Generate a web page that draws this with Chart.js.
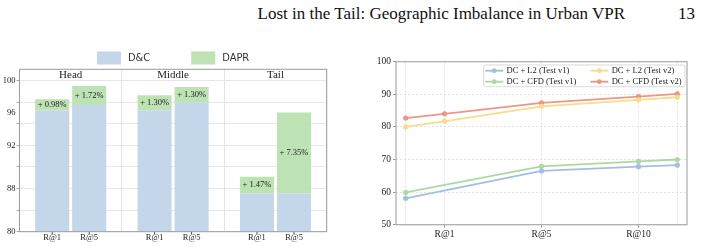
<!DOCTYPE html>
<html>
<head>
<meta charset="utf-8">
<script src="https://cdn.jsdelivr.net/npm/chart.js@4.4.1/dist/chart.umd.min.js"></script>
<style>
  html, body { margin: 0; padding: 0; background: #fff; }
  #page { position: relative; width: 701px; height: 247px; overflow: hidden; }
  .runhead { position: absolute; top: 5px; font: 17px/17px "Liberation Serif", "DejaVu Serif", serif; color: #111; white-space: nowrap; }
  #title { right: 76px; }
  #pageno { right: 6px; }
  #left { position: absolute; left: 0; top: 40px; width: 350px; height: 207px; }
  #right { position: absolute; left: 370px; top: 40px; width: 331px; height: 207px; }
</style>
</head>
<body>
<div id="page">
  <div class="runhead" id="title">Lost in the Tail: Geographic Imbalance in Urban VPR</div>
  <div class="runhead" id="pageno">13</div>
  <div id="left"><canvas id="barChart"></canvas></div>
  <div id="right"><canvas id="lineChart"></canvas></div>
</div>
<script>
// ---- left panel data: D&C vs DAPR per region ----
const regions = ['Head', 'Middle', 'Tail'];
const recallNames = ['R@1', 'R@5'];
const dcR1 = [96.3, 96.3, 87.1];
const dcR5 = [97.0, 97.3, 87.1];
const daprR1 = [97.7, 98.2, 89.1];
const daprR5 = [99.35, 99.2, 96.05];
const gainR1 = ['+ 0.98%', '+ 1.30%', '+ 1.47%'];
const gainR5 = ['+ 1.72%', '+ 1.30%', '+ 7.35%'];
const barTickLabels = [80, 88, 92, 96, 100];
// the y axis of the bar panel is not linear: value breaks -> axis units
const axisBreaks = [80, 88, 92, 96, 100];
const axisUnits = [0, 2, 4, 5.5, 7];

// ---- right panel data ----
const recallPoints = [0.6, 1, 2, 3, 3.4];
const recallTickText = ['', 'R@1', 'R@5', 'R@10', ''];
const l2V1 = [58.1, null, 66.5, 67.8, 68.3];
const cfdV1 = [59.9, null, 67.9, 69.4, 70.0];
const l2V2 = [80.0, 81.7, 86.3, 88.3, 89.1];
const cfdV2 = [82.7, 84.0, 87.4, 89.3, 90.1];

const SERIF = '"Liberation Serif", "DejaVu Serif", serif';
const NARROW = '"Liberation Sans Narrow", "DejaVu Sans Condensed", "Liberation Sans", sans-serif';
const BLUE_BAR = '#c4d6ea', GREEN_BAR = '#bde2b4';

function interp(v, xs, ys) {
  let i = 1;
  while (i < xs.length - 1 && v > xs[i]) i++;
  return ys[i - 1] + (v - xs[i - 1]) / (xs[i] - xs[i - 1]) * (ys[i] - ys[i - 1]);
}
const toUnit = v => interp(v, axisBreaks, axisUnits);
const fromUnit = u => interp(u, axisUnits, axisBreaks);

class BrokenScale extends Chart.LinearScale {
  static id = 'broken';
  static defaults = Chart.LinearScale.defaults;
  getPixelForValue(v) {
    const u0 = toUnit(this.min), u1 = toUnit(this.max);
    return this.getPixelForDecimal((toUnit(v) - u0) / (u1 - u0));
  }
  getValueForPixel(p) {
    const u0 = toUnit(this.min), u1 = toUnit(this.max);
    return fromUnit(u0 + this.getDecimalForPixel(p) * (u1 - u0));
  }
}
Chart.register(BrokenScale);

const frame = {
  id: 'frame',
  afterDraw(chart, args, opts) {
    const { ctx, chartArea: a } = chart;
    ctx.save();
    ctx.strokeStyle = opts.color;
    ctx.lineWidth = opts.width;
    ctx.strokeRect(a.left, a.top, a.right - a.left, a.bottom - a.top);
    ctx.restore();
  }
};

// region names, gain labels, R@k labels and the legend of the bar panel
const barDecor = {
  id: 'barDecor',
  afterDatasetsDraw(chart) {
    const { ctx, chartArea: a, scales } = chart;
    ctx.save();
    ctx.fillStyle = '#222';
    ctx.textAlign = 'center';
    ctx.textBaseline = 'middle';
    ctx.font = '11px ' + SERIF;
    regions.forEach((r, i) => ctx.fillText(r, scales.x.getPixelForValue(i), a.top + 5.5));

    ctx.font = '8.5px ' + SERIF;
    [[1, gainR1], [3, gainR5]].forEach(([di, labels]) => {
      chart.getDatasetMeta(di).data.forEach((bar, i) => {
        ctx.fillText(labels[i], bar.x, (bar.y + bar.base) / 2);
      });
    });
    [0, 2].forEach((di, k) => {
      chart.getDatasetMeta(di).data.forEach(bar => {
        ctx.fillText(recallNames[k], bar.x, a.bottom + 5.8);
        ctx.fillRect(bar.x - 0.4, a.bottom, 0.8, 2.5);
      });
    });

    // legend
    ctx.font = '11px ' + NARROW;
    const items = [[chart.data.datasets[0].label, BLUE_BAR], [chart.data.datasets[1].label, GREEN_BAR]];
    const boxW = 24, boxH = 13, textGap = 7, itemGap = 41;
    const widths = items.map(([t]) => boxW + textGap + ctx.measureText(t).width);
    let x = (a.left + a.right) / 2 - (widths[0] + widths[1] + itemGap) / 2;
    const cy = a.top - 11.3;
    ctx.textAlign = 'left';
    items.forEach(([t, c], i) => {
      ctx.fillStyle = c;
      ctx.fillRect(x, cy - boxH / 2, boxW, boxH);
      ctx.fillStyle = '#333';
      ctx.fillText(t, x + boxW + textGap, cy);
      x += widths[i] + itemGap;
    });
    ctx.restore();
  }
};

const gain = (top, base) => top.map((v, i) => +(v - base[i]).toFixed(2));
const gridValues = [0, 1, 2, 3, 4, 5, 5.5, 6, 7].map(fromUnit);
const isLabel = v => barTickLabels.some(t => Math.abs(t - v) < 1e-6);

new Chart(document.getElementById('barChart'), {
  type: 'bar',
  data: {
    labels: regions,
    datasets: [
      { label: 'D&C', data: dcR1, stack: 'r1', backgroundColor: BLUE_BAR, base: 80 },
      { label: 'DAPR', data: gain(daprR1, dcR1), stack: 'r1', backgroundColor: GREEN_BAR },
      { label: 'D&C', data: dcR5, stack: 'r5', backgroundColor: BLUE_BAR, base: 80 },
      { label: 'DAPR', data: gain(daprR5, dcR5), stack: 'r5', backgroundColor: GREEN_BAR }
    ]
  },
  options: {
    responsive: true,
    maintainAspectRatio: false,
    animation: false,
    categoryPercentage: 0.723,
    barPercentage: 0.92,
    layout: { padding: { top: 29.3, right: 23.3, left: 0, bottom: 0 } },
    plugins: {
      legend: { display: false },
      tooltip: { enabled: false },
      frame: { color: '#9a9a9a', width: 1 }
    },
    scales: {
      x: {
        stacked: true,
        grid: { offset: true, color: '#e4e4e4', drawTicks: false },
        border: { display: false },
        ticks: { display: false },
        afterFit: axis => { axis.height = 15.3; }
      },
      y: {
        type: 'broken',
        stacked: true,
        min: 80,
        max: 101.4,
        afterBuildTicks: axis => { axis.ticks = gridValues.map(v => ({ value: v })); },
        grid: {
          color: c => (c.tick && Math.abs(c.tick.value - 96) < 1e-6) ? 'rgba(0,0,0,0)' : '#e6e6e6',
          tickColor: c => (c.tick && Math.abs(c.tick.value - 96) < 1e-6) ? 'rgba(0,0,0,0)' : '#aaa',
          tickLength: 3
        },
        border: { display: false },
        ticks: {
          autoSkip: false,
          padding: 1,
          color: '#222',
          font: { family: SERIF, size: 8.5 },
          callback: v => isLabel(v) ? Math.round(v) : ''
        },
        afterFit: axis => { axis.width = 19.5; }
      }
    }
  },
  plugins: [frame, barDecor]
});

// legend drawn inside the plot area, two columns
const lineLegend = {
  id: 'lineLegend',
  afterDraw(chart) {
    const { ctx, chartArea: a } = chart;
    const ds = chart.data.datasets;
    const cols = [[ds[0], ds[1]], [ds[2], ds[3]]];
    ctx.save();
    ctx.font = '8.5px ' + SERIF;
    const lineLen = 18, gap = 3.3, colGap = 14, pad = 1.5, rowH = 11;
    const colW = cols.map(c => Math.max(...c.map(d => ctx.measureText(d.label).width)));
    const w = pad * 2 + 2 * (lineLen + gap) + colW[0] + colGap + colW[1] + 2;
    const h = rowH * 2 - 0.3;
    const x0 = a.right - 2 - w, y0 = a.top + 3.3;
    ctx.fillStyle = 'rgba(255,255,255,0.85)';
    ctx.strokeStyle = '#cfcfcf';
    ctx.lineWidth = 0.8;
    ctx.beginPath();
    ctx.roundRect(x0, y0, w, h, 2);
    ctx.fill();
    ctx.stroke();
    ctx.textBaseline = 'middle';
    let cx = x0 + pad;
    cols.forEach((col, ci) => {
      col.forEach((d, ri) => {
        const cy = y0 + 5.7 + ri * rowH;
        ctx.strokeStyle = d.borderColor;
        ctx.lineWidth = 1.8;
        ctx.beginPath();
        ctx.moveTo(cx, cy);
        ctx.lineTo(cx + lineLen, cy);
        ctx.stroke();
        ctx.fillStyle = d.borderColor;
        ctx.beginPath();
        ctx.arc(cx + lineLen / 2, cy, 2.4, 0, Math.PI * 2);
        ctx.fill();
        ctx.fillStyle = '#222';
        ctx.fillText(d.label, cx + lineLen + gap, cy);
      });
      cx += lineLen + gap + colW[ci] + colGap;
    });
    ctx.restore();
  }
};

const series = (ys) => recallPoints.map((x, i) => ({ x, y: ys[i] }));
const lineSet = (label, ys, color) => ({
  label, data: series(ys), borderColor: color, backgroundColor: color,
  pointBackgroundColor: color, pointBorderWidth: 0, pointRadius: 2.6,
  borderWidth: 1.8, spanGaps: true, tension: 0
});

new Chart(document.getElementById('lineChart'), {
  type: 'line',
  data: {
    datasets: [
      lineSet('DC + L2 (Test v1)', l2V1, '#a2bfe3'),
      lineSet('DC + CFD (Test v1)', cfdV1, '#acd9a3'),
      lineSet('DC + L2 (Test v2)', l2V2, '#f6dc8c'),
      lineSet('DC + CFD (Test v2)', cfdV2, '#ec9684')
    ]
  },
  options: {
    responsive: true,
    maintainAspectRatio: false,
    animation: false,
    layout: { padding: { top: 21.7, right: 14, left: 0, bottom: 0 } },
    plugins: {
      legend: { display: false },
      tooltip: { enabled: false },
      frame: { color: '#aaaaaa', width: 1.2 }
    },
    scales: {
      x: {
        type: 'linear',
        min: 0.5,
        max: 3.5,
        afterBuildTicks: axis => { axis.ticks = recallPoints.map(v => ({ value: v })); },
        grid: {
          color: '#e2e2e2',
          tickColor: c => recallTickText[c.index] ? '#999' : 'rgba(0,0,0,0)',
          tickLength: 3
        },
        border: { display: false, dash: [2, 2] },
        ticks: {
          autoSkip: false,
          maxRotation: 0,
          padding: 1,
          color: '#222',
          font: { family: SERIF, size: 9.5 },
          callback: (v, i) => recallTickText[i]
        },
        afterFit: axis => { axis.height = 22.3; }
      },
      y: {
        min: 50,
        max: 100,
        ticks: {
          stepSize: 10,
          padding: 2,
          color: '#222',
          font: { family: SERIF, size: 9.5 }
        },
        grid: { color: '#e2e2e2', tickColor: '#999', tickLength: 3 },
        border: { display: false, dash: [2, 2] },
        afterFit: axis => { axis.width = 26; }
      }
    }
  },
  plugins: [frame, lineLegend]
});
</script>
</body>
</html>
